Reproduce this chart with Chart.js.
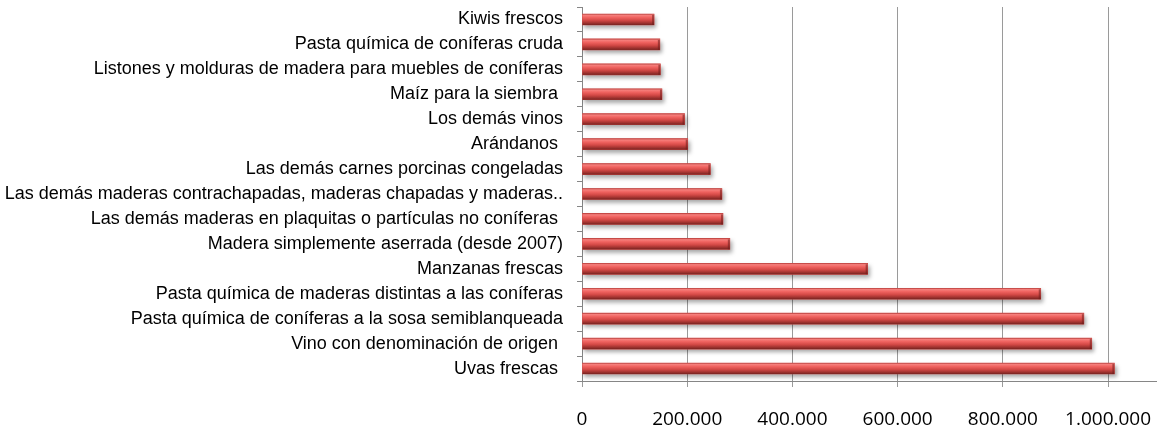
<!DOCTYPE html>
<html lang="es">
<head>
<meta charset="utf-8">
<title>Exportaciones</title>
<script src="https://cdn.jsdelivr.net/npm/chart.js@4.4.1/dist/chart.umd.min.js"></script>
<style>
	html, body { margin: 0; padding: 0; background: #fff; overflow: hidden; }
	#wrap { width: 1157px; height: 428px; }
</style>
</head>
<body>
<div id="wrap"><canvas id="chart" width="1157" height="428"></canvas></div>
<script>
// Categories, top to bottom as in the picture.
var CATEGORIES = [
	'Kiwis frescos',
	'Pasta química de coníferas cruda',
	'Listones y molduras de madera para muebles de coníferas',
	'Maíz para la siembra ',
	'Los demás vinos',
	'Arándanos ',
	'Las demás carnes porcinas congeladas',
	'Las demás maderas contrachapadas, maderas chapadas y maderas..',
	'Las demás maderas en plaquitas o partículas no coníferas ',
	'Madera simplemente aserrada (desde 2007)',
	'Manzanas frescas',
	'Pasta química de maderas distintas a las coníferas',
	'Pasta química de coníferas a la sosa semiblanqueada',
	'Vino con denominación de origen ',
	'Uvas frescas '
];

// Values.
var VALUES = [
	137000, 148000, 149000, 152000, 195000,
	201000, 244000, 266000, 268000, 281000,
	543000, 872000, 954000, 969000, 1012000
];

// Labelled ticks on the value axis.
var X_TICKS = [0, 200000, 400000, 600000, 800000, 1000000];

(function () {
	'use strict';

	var COLORS = {
		bar:    '#d24a47',
		axis:   '#868686',
		grid:   '#9a9a9a',
		text:   '#000000'
	};

	function formatThousands(v) {
		return String(v).replace(/\B(?=(\d{3})+(?!\d))/g, '.');
	}

	// Gives the bars the bevelled Excel look: shadow under, light band on top.
	var bar3d = {
		id: 'bar3d',
		beforeDatasetDraw: function (chart) {
			var ctx = chart.ctx;
			ctx.save();
			ctx.shadowColor = 'rgba(0, 0, 0, 0.35)';
			ctx.shadowBlur = 4;
			ctx.shadowOffsetX = 2;
			ctx.shadowOffsetY = 3;
		},
		afterDatasetDraw: function (chart, args) {
			var ctx = chart.ctx;
			ctx.restore();
			ctx.save();
			args.meta.data.forEach(function (bar) {
				var p = bar.getProps(['x', 'y', 'base', 'height'], true);
				var top = p.y - p.height / 2;
				var g = ctx.createLinearGradient(0, top, 0, top + p.height);
				g.addColorStop(0, '#b94542');
				g.addColorStop(0.12, '#f67f7c');
				g.addColorStop(0.32, '#ef625f');
				g.addColorStop(0.58, '#d34946');
				g.addColorStop(0.82, '#a13330');
				g.addColorStop(1, '#762320');
				ctx.fillStyle = g;
				ctx.fillRect(p.base, top, p.x - p.base, p.height);
				// darker end cap
				ctx.fillStyle = 'rgba(110, 30, 28, 0.55)';
				ctx.fillRect(p.x - 2, top + 1, 2, p.height - 1);
			});
			ctx.restore();
		}
	};

	function noEdgePadding(scale) {
		scale.paddingLeft = 0;
		scale.paddingRight = 0;
		scale.paddingTop = 0;
		scale.paddingBottom = 0;
	}

	function init() {
		var canvas = document.getElementById('chart');

		new Chart(canvas, {
			type: 'bar',
			data: {
				labels: CATEGORIES,
				datasets: [{
					data: VALUES,
					backgroundColor: COLORS.bar,
					borderWidth: 0,
					barThickness: 11
				}]
			},
			plugins: [bar3d],
			options: {
				indexAxis: 'y',
				responsive: false,
				animation: false,
				layout: { padding: { top: 7, right: 0, bottom: 0, left: 0 } },
				plugins: {
					legend: { display: false },
					tooltip: { enabled: false }
				},
				scales: {
					x: {
						min: 0,
						max: 1093000,
						afterBuildTicks: function (scale) {
							scale.ticks = X_TICKS.map(function (v) {
								return { value: v };
							});
						},
						afterFit: function (scale) {
							scale.height = 47;
							noEdgePadding(scale);
						},
						ticks: {
							autoSkip: false,
							maxRotation: 0,
							padding: 21,
							color: COLORS.text,
							font: { family: '"Open Sans", sans-serif', size: 19 },
							callback: function (v) {
								return formatThousands(v);
							}
						},
						grid: { color: COLORS.grid, tickLength: 6 },
						border: { color: COLORS.axis }
					},
					y: {
						afterFit: function (scale) {
							scale.width = 582;
							noEdgePadding(scale);
						},
						ticks: {
							autoSkip: false,
							padding: 14,
							color: COLORS.text,
							font: { family: '"Liberation Sans", Arial, sans-serif', size: 18 }
						},
						grid: {
							drawOnChartArea: false,
							offset: true,
							tickLength: 5,
							color: COLORS.axis
						},
						border: { color: COLORS.axis }
					}
				}
			}
		});
	}

	if (document.readyState === 'loading') {
		document.addEventListener('DOMContentLoaded', init);
	} else {
		init();
	}
}());
</script>
</body>
</html>
